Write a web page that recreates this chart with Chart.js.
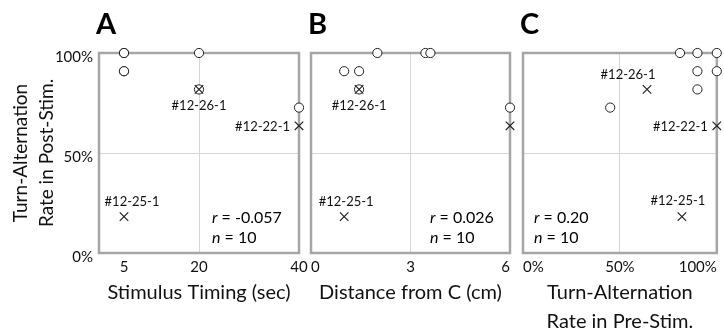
<!DOCTYPE html>
<html>
<head>
<meta charset="utf-8">
<script src="https://cdn.jsdelivr.net/npm/chart.js@4.4.1/dist/chart.umd.min.js"></script>
<style>
  html, body { margin: 0; padding: 0; background: #fff; }
  #wrap { position: relative; width: 724px; height: 334px; }
  #wrap canvas { position: absolute; left: 0; top: 0; }
</style>
</head>
<body>
<div id="wrap">
  <canvas id="chartA" width="724" height="334"></canvas>
  <canvas id="chartB" width="724" height="334"></canvas>
  <canvas id="chartC" width="724" height="334"></canvas>
</div>
<script>
// shared y values (turn-alternation rate in post-stim, %)
const yTicks = [0, 50, 100];
const normalY = [100, 100, 100, 90.9, 90.9, 81.8, 72.7];
const outlierY = [81.8, 63.6, 18.2];
const outlierIds = ["#12-26-1", "#12-22-1", "#12-25-1"];

// A: stimulus timing (sec)
const timingTicks = [5, 20, 40];
const timingNormalX = [5, 5, 20, 5, 5, 20, 40];
const timingOutlierX = [20, 40, 5];

// B: distance from C (cm)
const distanceTicks = [0, 3, 6];
const distanceNormalX = [2, 3.45, 3.6, 1, 1.45, 1.45, 6];
const distanceOutlierX = [1.45, 6, 1];

// C: turn-alternation rate in pre-stim (%)
const preStimTicks = [0, 50, 100];
const preStimNormalX = [81, 90, 100, 90, 100, 90, 45];
const preStimOutlierX = [64, 100, 82];

const rValues = ["-0.057", "0.026", "0.20"];
const nValues = [10, 10, 10];

const FONT = "Lato, 'Open Sans', sans-serif";
const frameColor = "#a6a6a6";
const gridColor = "#d6d6d6";
const inkColor = "#111";

const pts = (xs, ys) => xs.map((x, i) => ({ x: x, y: ys[i] }));

// frame, panel letter, stats text, outlier labels
const panelDecor = {
  id: "panelDecor",
  beforeDatasetsDraw(chart) {
    const a = chart.chartArea;
    const ctx = chart.ctx;
    ctx.save();
    ctx.strokeStyle = frameColor;
    ctx.lineWidth = 2.5;
    ctx.strokeRect(a.left, a.top, a.right - a.left, a.bottom - a.top);
    ctx.restore();
  },
  afterDatasetsDraw(chart) {
    const o = chart.options.plugins.panelDecor;
    const a = chart.chartArea;
    const ctx = chart.ctx;
    ctx.save();
    ctx.fillStyle = "#000";
    ctx.textBaseline = "middle";

    // panel letter
    ctx.font = "bold 29px " + FONT;
    ctx.textAlign = "left";
    ctx.fillText(o.letter, a.left - 3, 25);

    // r and n
    const sx = a.left + o.statsX;
    ctx.font = "italic 16px " + FONT;
    ctx.fillText("r", sx, 218);
    ctx.fillText("n", sx, 238);
    const rw = ctx.measureText("r").width;
    const nw = ctx.measureText("n").width;
    ctx.font = "16px " + FONT;
    ctx.fillText(" = " + o.r, sx + rw, 218);
    ctx.fillText(" = " + o.n, sx + nw, 238);

    // outlier labels
    ctx.font = "13px " + FONT;
    ctx.fillStyle = inkColor;
    const meta = chart.getDatasetMeta(1);
    o.labels.forEach((p, i) => {
      if (!p) return;
      const el = meta.data[i];
      ctx.textAlign = p.align;
      ctx.fillText(outlierIds[i], el.x + p.dx, el.y + p.dy);
    });
    ctx.restore();
  }
};

function makePanel(id, cfg) {
  const xTicks = cfg.xTicks;
  return new Chart(document.getElementById(id), {
    type: "scatter",
    data: {
      datasets: [
        {
          data: pts(cfg.normalX, normalY),
          order: 1,
          pointStyle: "circle",
          pointRadius: 4.6,
          borderWidth: 1,
          borderColor: "#222",
          backgroundColor: "#fff",
          clip: false
        },
        {
          data: pts(cfg.outlierX, outlierY),
          order: 0,
          pointStyle: "crossRot",
          pointRadius: 6,
          borderWidth: 1.2,
          borderColor: "#222",
          clip: false
        }
      ]
    },
    options: {
      responsive: false,
      animation: false,
      devicePixelRatio: 1,
      layout: { padding: { left: cfg.padLeft, right: cfg.padRight, top: 53, bottom: 0 } },
      plugins: {
        legend: { display: false },
        tooltip: { enabled: false },
        panelDecor: { letter: cfg.letter, r: cfg.r, n: cfg.n, statsX: cfg.statsX, labels: cfg.labels }
      },
      scales: {
        x: {
          type: "linear",
          min: xTicks[0] < 1 ? xTicks[0] : 0,
          max: xTicks[xTicks.length - 1],
          afterBuildTicks: (s) => { s.ticks = xTicks.map((v) => ({ value: v })); },
          afterFit: (s) => { s.height = 81; s.paddingLeft = 0; s.paddingRight = 0; },
          border: { display: false },
          grid: {
            drawTicks: false,
            color: (c) => (c.index === 1 ? gridColor : "rgba(0,0,0,0)"),
            lineWidth: 1
          },
          ticks: {
            padding: 5,
            align: cfg.xAlign,
            color: inkColor,
            font: { family: FONT, size: 15 },
            maxRotation: 0,
            callback: cfg.xFormat
          },
          title: {
            display: true,
            text: cfg.xTitle,
            color: inkColor,
            font: { family: FONT, size: 20, lineHeight: 1.45 },
            padding: { top: 0, bottom: cfg.xTitlePad }
          }
        },
        y: {
          type: "linear",
          min: 0,
          max: 100,
          afterBuildTicks: (s) => { s.ticks = yTicks.map((v) => ({ value: v })); },
          afterFit: (s) => { s.width = cfg.yWidth; s.paddingTop = 0; s.paddingBottom = 0; },
          border: { display: false },
          grid: {
            drawTicks: false,
            color: (c) => (c.index === 1 ? gridColor : "rgba(0,0,0,0)"),
            lineWidth: 1
          },
          ticks: {
            display: cfg.showY,
            padding: 6,
            labelOffset: 4,
            color: inkColor,
            font: { family: FONT, size: 15 },
            callback: (v) => v + "%"
          },
          title: {
            display: cfg.showY,
            text: ["Turn-Alternation", "Rate in Post-Stim."],
            color: inkColor,
            font: { family: FONT, size: 19, lineHeight: 1.37 },
            padding: { top: 8, bottom: 0 }
          }
        }
      }
    },
    plugins: [panelDecor]
  });
}

makePanel("chartA", {
  letter: "A", r: rValues[0], n: nValues[0],
  xTicks: timingTicks, normalX: timingNormalX, outlierX: timingOutlierX,
  xTitle: "Stimulus Timing (sec)", xTitlePad: 26.5, xFormat: (v) => v, xAlign: "center",
  padLeft: 0, padRight: 425, yWidth: 99, showY: true, statsX: 113,
  labels: [
    { dx: 0, dy: 16, align: "center" },
    { dx: -9, dy: 1, align: "right" },
    { dx: 8, dy: -15, align: "center" }
  ]
});

makePanel("chartB", {
  letter: "B", r: rValues[1], n: nValues[1],
  xTicks: distanceTicks, normalX: distanceNormalX, outlierX: distanceOutlierX,
  xTitle: "Distance from C (cm)", xTitlePad: 26.5, xFormat: (v) => v, xAlign: "inner",
  padLeft: 311, padRight: 214, yWidth: 0, showY: false, statsX: 119,
  labels: [
    { dx: 0, dy: 16, align: "center" },
    null,
    { dx: 2, dy: -15, align: "center" }
  ]
});

makePanel("chartC", {
  letter: "C", r: rValues[2], n: nValues[2],
  xTicks: preStimTicks, normalX: preStimNormalX, outlierX: preStimOutlierX,
  xTitle: ["Turn-Alternation", "Rate in Pre-Stim."], xTitlePad: -2.5, xFormat: (v) => v + "%", xAlign: "inner",
  padLeft: 523, padRight: 2, yWidth: 0, showY: false, statsX: 11,
  labels: [
    { dx: -19, dy: -15, align: "center" },
    { dx: -9, dy: 1, align: "right" },
    { dx: -4, dy: -16, align: "center" }
  ]
});
</script>
</body>
</html>
